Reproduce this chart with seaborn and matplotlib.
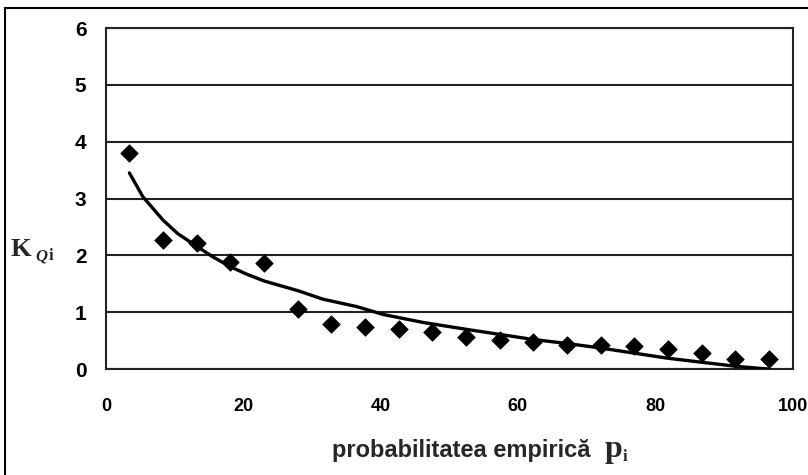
import matplotlib
matplotlib.use("Agg")
import matplotlib.pyplot as plt
import seaborn as sns
import pandas as pd
from matplotlib import font_manager
from matplotlib.patches import Rectangle

# empirical exceedance probability (%) and observed modulus coefficients
p_emp = [3.43, 8.33, 13.24, 18.14, 23.04, 27.94, 32.84, 37.75, 42.65, 47.55,
         52.45, 57.35, 62.25, 67.16, 72.06, 76.96, 81.86, 86.76, 91.67, 96.57]
k_obs = [3.80, 2.27, 2.22, 1.88, 1.87, 1.06, 0.79, 0.74, 0.70, 0.66,
         0.56, 0.51, 0.47, 0.43, 0.43, 0.40, 0.36, 0.28, 0.17, 0.17]

# fitted theoretical curve
p_fit = [3.43, 5.4, 8.33, 10.5, 13.24, 15.5, 18.14, 20.5, 23.04, 27.94,
         31.6, 36.5, 40.4, 46.2, 52.45, 57.35, 62.25, 67.16, 72.06, 76.96,
         81.86, 86.76, 91.67, 94.5, 96.57]
k_fit = [3.45, 3.03, 2.62, 2.38, 2.16, 1.98, 1.80, 1.67, 1.55, 1.38,
         1.23, 1.10, 0.96, 0.82, 0.70, 0.61, 0.52, 0.45, 0.37, 0.28,
         0.19, 0.12, 0.05, 0.02, 0.0]

x_ticks = [0, 20, 40, 60, 80, 100]
y_ticks = [0, 1, 2, 3, 4, 5, 6]

sns.set_style("white")
plt.rcParams["font.family"] = ["Liberation Sans", "DejaVu Sans"]

# condensed face for the x tick numbers when one is available
installed = {f.name for f in font_manager.fontManager.ttflist}
if "Liberation Sans Narrow" in installed:
    xtick_family, xtick_size = "Liberation Sans Narrow", 15
else:
    xtick_family, xtick_size = "Liberation Sans", 13

fig = plt.figure(figsize=(8.08, 4.75), dpi=100)
ax = fig.add_axes([0.131, 0.223, 0.850, 0.718])

obs = pd.DataFrame({"p": p_emp, "k": k_obs})
fit = pd.DataFrame({"p": p_fit, "k": k_fit})

sns.lineplot(data=fit, x="p", y="k", ax=ax, color="black", linewidth=2.4,
             sort=False, estimator=None, zorder=3)
sns.scatterplot(data=obs, x="p", y="k", ax=ax, marker="D", s=80,
                color="black", edgecolor="black", linewidth=0.5, zorder=4)

ax.set_xlim(0, 100)
ax.set_ylim(0, 6)
ax.set_xticks(x_ticks)
ax.set_yticks(y_ticks)
ax.set_xticklabels([str(t) for t in x_ticks], fontsize=xtick_size,
                   fontweight="bold", family=xtick_family)
ax.set_yticklabels([str(t) for t in y_ticks], fontsize=15, fontweight="bold")
ax.tick_params(axis="x", direction="inout", length=6, width=1.2, pad=18,
               colors="black")
ax.tick_params(axis="y", direction="out", length=5, width=1.2, pad=9,
               colors="black")
ax.set_xlabel("")
ax.set_ylabel("")

ax.yaxis.grid(True, color="#222222", linewidth=1.5)
ax.xaxis.grid(False)
for side in ["left", "right", "top", "bottom"]:
    ax.spines[side].set_visible(True)
    ax.spines[side].set_color("#222222")
    ax.spines[side].set_linewidth(1.5)

# axis titles
fig.text(0.731, 0.038, "probabilitatea empirică", ha="right", va="baseline",
         fontsize=17, fontweight="bold", family=["Liberation Sans", "DejaVu Sans"])
fig.text(0.748, 0.038, "p", ha="left", va="baseline", fontsize=23,
         fontweight="bold", family=["Liberation Serif", "DejaVu Serif"])
fig.text(0.771, 0.030, "i", ha="left", va="baseline", fontsize=12,
         fontweight="bold", family=["Liberation Serif", "DejaVu Serif"])

fig.text(0.013, 0.462, "K", ha="left", va="baseline", fontsize=19,
         fontweight="bold", family=["Liberation Serif", "DejaVu Serif"])
fig.text(0.044, 0.452, "Q", ha="left", va="baseline", fontsize=12,
         style="italic", fontweight="bold", family=["Liberation Serif", "DejaVu Serif"])
fig.text(0.060, 0.452, "i", ha="left", va="baseline", fontsize=12,
         fontweight="bold", family=["Liberation Serif", "DejaVu Serif"])

# outer frame (runs off the right and bottom edges)
fig.patches.append(Rectangle((0.006, -0.05), 1.05, 1.033, transform=fig.transFigure,
                             fill=False, edgecolor="black", linewidth=1.5))

fig.savefig("out.png", dpi=100)
